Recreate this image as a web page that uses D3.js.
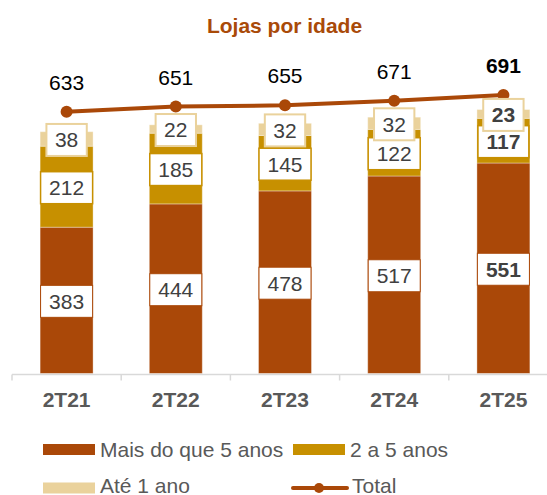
<!DOCTYPE html>
<html>
<head>
<meta charset="utf-8">
<script src="https://cdn.jsdelivr.net/npm/d3@7"></script>
<style>
  html, body { margin: 0; padding: 0; background: #fff; }
  svg { display: block; font-family: "Liberation Sans", Arial, sans-serif; }
</style>
</head>
<body>
<svg id="chart" width="547" height="495"></svg>
<script>
const categories = ["2T21", "2T22", "2T23", "2T24", "2T25"];
const maisDe5 = [383, 444, 478, 517, 551];
const de2a5 = [212, 185, 145, 122, 117];
const ate1 = [38, 22, 32, 32, 23];
const total = [633, 651, 655, 671, 691];
const seriesNames = ["Mais do que 5 anos", "2 a 5 anos", "Até 1 ano", "Total"];

const colors = { mais: "#AA4808", gold: "#C79000", light: "#EAD29C", line: "#AA4808" };

const svg = d3.select("#chart");

const x = d3.scaleBand().domain(categories).range([12, 558]).paddingInner(0.515).paddingOuter(0.2575);
const y = d3.scaleLinear().domain([0, 700]).range([373.5, 106.1]);
const yLine = d3.scaleLinear().domain([600, 700]).range([121.2, 92.4]);

// Title
svg.append("text").attr("x", 284.5).attr("y", 32.5).attr("text-anchor", "middle")
  .attr("font-size", 21).attr("font-weight", "bold").attr("fill", "#A94A08")
  .text("Lojas por idade");

// Stack data
const rows = categories.map((c, i) => ({ cat: c, mais: maisDe5[i], gold: de2a5[i], light: ate1[i], total: total[i], i }));
const stack = d3.stack().keys(["mais", "gold", "light"])(rows);
const fill = { mais: colors.mais, gold: colors.gold, light: colors.light };

const gBars = svg.append("g");
stack.forEach(layer => {
  gBars.selectAll(null).data(layer).enter().append("rect")
    .attr("x", d => x(d.data.cat))
    .attr("width", x.bandwidth())
    .attr("y", d => y(d[1]))
    .attr("height", d => y(d[0]) - y(d[1]))
    .attr("fill", fill[layer.key])
    .attr("stroke", "#fff").attr("stroke-opacity", 0.35).attr("stroke-width", 1);
});

// Axis
const step = x.step();
svg.append("line").attr("x1", 12).attr("x2", 547).attr("y1", 374.5).attr("y2", 374.5)
  .attr("stroke", "#d9d9d9").attr("stroke-width", 1.5);
categories.forEach(c => {
  const tx = x(c) - step * x.paddingInner() / 2;
  svg.append("line").attr("x1", tx).attr("x2", tx).attr("y1", 374.5).attr("y2", 380.5)
    .attr("stroke", "#d9d9d9").attr("stroke-width", 1.5);
});
svg.append("g").selectAll("text").data(categories).enter().append("text")
  .attr("x", d => x(d) + x.bandwidth() / 2).attr("y", 407)
  .attr("text-anchor", "middle").attr("font-size", 21).attr("font-weight", "bold")
  .attr("fill", "#595959").text(d => d);

// Line
const cx = d => x(d.cat) + x.bandwidth() / 2;
svg.append("path").datum(rows)
  .attr("d", d3.line().x(cx).y(d => yLine(d.total)))
  .attr("fill", "none").attr("stroke", colors.line).attr("stroke-width", 4);
svg.append("g").selectAll("circle").data(rows).enter().append("circle")
  .attr("cx", cx).attr("cy", d => yLine(d.total)).attr("r", 6).attr("fill", colors.line);
svg.append("g").selectAll("text").data(rows).enter().append("text")
  .attr("x", cx).attr("y", d => yLine(d.total) - 22)
  .attr("text-anchor", "middle").attr("font-size", 21)
  .attr("font-weight", d => d.i === 4 ? "bold" : "normal")
  .attr("fill", "#000").text(d => d.total);

// Data labels in boxes
const fs = 21;
function boxLabels(layer, stroke, sw) {
  const g = svg.append("g");
  layer.forEach(d => {
    const cxv = cx(d.data);
    const cyv = (y(d[0]) + y(d[1])) / 2 + 1;
    const val = d[1] - d[0];
    const t = g.append("text").attr("x", cxv).attr("y", cyv + fs * 0.35)
      .attr("text-anchor", "middle").attr("font-size", fs)
      .attr("font-weight", d.data.i === 4 ? "bold" : "normal")
      .attr("fill", "#404040").text(val);
    const w = t.node().getComputedTextLength() + 17;
    g.insert("rect", () => t.node())
      .attr("x", cxv - w / 2).attr("y", cyv - 16).attr("width", w).attr("height", 32)
      .attr("fill", "#fff").attr("stroke", stroke).attr("stroke-width", sw);
  });
}
boxLabels(stack[0], colors.mais, 1);
boxLabels(stack[1], colors.gold, 1.5);
boxLabels(stack[2], colors.light, 2);

// Legend
const lg = svg.append("g").attr("font-size", 21).attr("fill", "#595959");
lg.append("rect").attr("x", 43).attr("y", 444).attr("width", 52).attr("height", 11).attr("fill", colors.mais);
lg.append("text").attr("x", 100).attr("y", 456.5).text(seriesNames[0]);
lg.append("rect").attr("x", 293).attr("y", 444).attr("width", 52).attr("height", 11).attr("fill", colors.gold);
lg.append("text").attr("x", 350).attr("y", 456.5).text(seriesNames[1]);
lg.append("rect").attr("x", 43).attr("y", 482.5).attr("width", 52).attr("height", 11).attr("fill", colors.light);
lg.append("text").attr("x", 100).attr("y", 493).text(seriesNames[2]);
lg.append("line").attr("x1", 293).attr("x2", 347).attr("y1", 488).attr("y2", 488)
  .attr("stroke", colors.line).attr("stroke-width", 4).attr("stroke-linecap", "round");
lg.append("circle").attr("cx", 319).attr("cy", 488).attr("r", 5).attr("fill", colors.line);
lg.append("text").attr("x", 352).attr("y", 493).text(seriesNames[3]);
</script>
</body>
</html>
